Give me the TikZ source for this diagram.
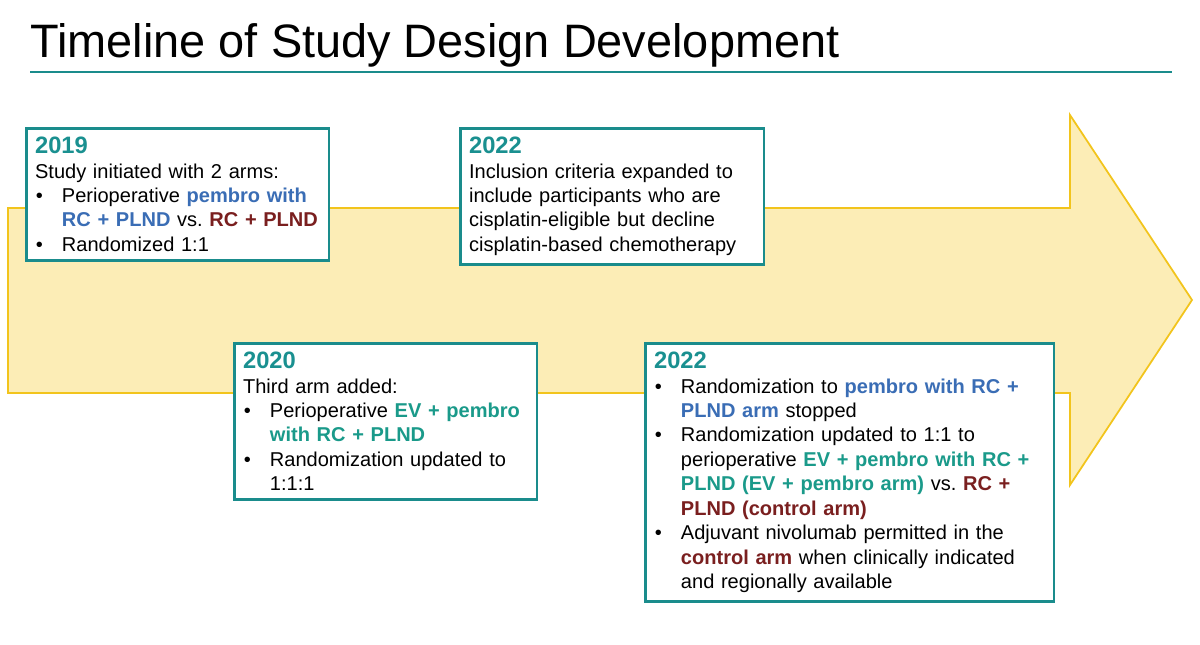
\documentclass[tikz,border=0pt]{standalone}
\usepackage{fontspec}
\setmainfont{Liberation Sans}
\usetikzlibrary{positioning}
\setlength{\parindent}{0pt}
\hyphenpenalty=10000
\frenchspacing
\definecolor{tealline}{HTML}{1A8C8C}
\definecolor{yeartxt}{HTML}{1A9090}
\definecolor{armblue}{HTML}{3A6DB5}
\definecolor{armred}{HTML}{7A1F1F}
\definecolor{armgreen}{HTML}{1A9A8A}
\definecolor{arrowfill}{HTML}{FCEDB6}
\definecolor{arrowline}{HTML}{F2C41C}
\newcommand\yr[1]{\noindent{\bfseries\color{yeartxt}\fontsize{13.5pt}{14.5pt}\selectfont #1}\par}
\newcommand\bul{\par\hangindent=15.3pt\hangafter=1\noindent\makebox[15.3pt][l]{\hspace{0.5pt}•}}
\newcommand\hl[2]{\textbf{\color{#1}#2}}

\begin{document}
\begin{tikzpicture}[x=0.02cm,y=-0.02cm,
  stagebox/.style={draw=tealline, line width=1.5pt, fill=white, anchor=north west,
    inner xsep=5pt, inner ysep=5pt,
    font=\fontsize{11.4pt}{13.9pt}\selectfont}]
  \useasboundingbox (0,0) rectangle (1200,645);

  % Title
  \node[anchor=base west, inner sep=0, font=\fontsize{26.7pt}{30pt}\selectfont] (title) at (30,58) {Timeline of Study Design Development};
  \draw[tealline, line width=1.2pt] (30,72) -- (1172,72);

  % Arrow
  \draw[fill=arrowfill, draw=arrowline, line width=1pt]
    (8,208) -- (1070,208) -- (1070,115) -- (1192,300) -- (1070,485)
    -- (1070,393) -- (8,393) -- cycle;

  % --- Stages ---
  \node[stagebox, text width=5.7cm] (s2019) at (25,127) {%
    \yr{2019}\noindent Study initiated with 2 arms:
    \bul Perioperative \hl{armblue}{pembro with}\newline\hl{armblue}{RC + PLND} vs. \hl{armred}{RC + PLND}
    \bul Randomized 1:1\par};

  \node[stagebox, text width=5.72cm] (s2022a) at (459,127) {%
    \yr{2022}\noindent Inclusion criteria expanded to\newline include participants who are\newline cisplatin-eligible but decline\newline cisplatin-based chemotherapy\par};

  \node[stagebox, text width=5.7cm] (s2020) at (233,342) {%
    \yr{2020}\noindent Third arm added:
    \bul Perioperative \hl{armgreen}{EV + pembro}\newline\hl{armgreen}{with RC + PLND}
    \bul Randomization updated to\newline 1:1:1\par};

  \node[stagebox, text width=7.82cm] (s2022b) at (644,342) {%
    \yr{2022}%
    \bul Randomization to \hl{armblue}{pembro with RC +}\newline\hl{armblue}{PLND arm} stopped
    \bul Randomization updated to 1:1 to\newline perioperative \hl{armgreen}{EV + pembro with RC +}\newline\hl{armgreen}{PLND (EV + pembro arm)} vs. \hl{armred}{RC +}\newline\hl{armred}{PLND (control arm)}
    \bul Adjuvant nivolumab permitted in the\newline\hl{armred}{control arm} when clinically indicated\newline and regionally available\par};
\end{tikzpicture}
\end{document}
